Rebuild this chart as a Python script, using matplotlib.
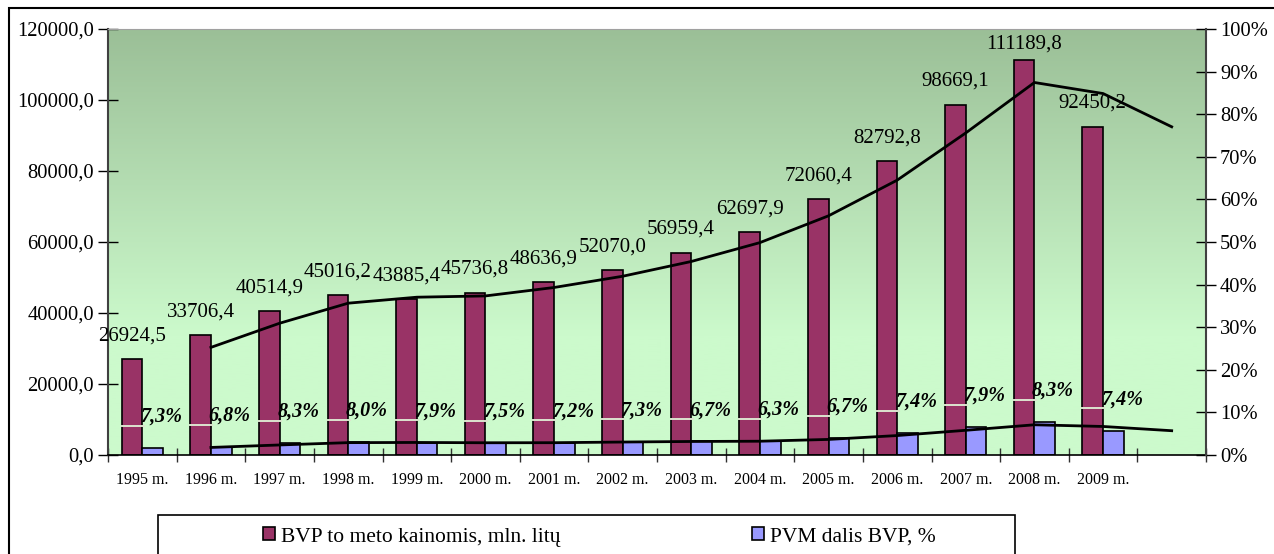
import matplotlib
matplotlib.use("Agg")
import matplotlib.pyplot as plt
import matplotlib.patches as patches
import matplotlib.transforms as mtransforms
from matplotlib.colors import LinearSegmentedColormap
from matplotlib.ticker import FuncFormatter, PercentFormatter
import numpy as np
import pandas as pd

plt.rcParams["font.family"] = ["Liberation Serif", "DejaVu Serif"]

years = ["1995 m.", "1996 m.", "1997 m.", "1998 m.", "1999 m.", "2000 m.", "2001 m.",
         "2002 m.", "2003 m.", "2004 m.", "2005 m.", "2006 m.", "2007 m.", "2008 m.", "2009 m."]
bvp = [26924.5, 33706.4, 40514.9, 45016.2, 43885.4, 45736.8, 48636.9, 52070.0,
       56959.4, 62697.9, 72060.4, 82792.8, 98669.1, 111189.8, 92450.2]
pvm_pct = [7.3, 6.8, 8.3, 8.0, 7.9, 7.5, 7.2, 7.3, 6.7, 6.3, 6.7, 7.4, 7.9, 8.3, 7.4]
pvm_amount = [1965, 2292, 3363, 3601, 3467, 3430, 3502, 3801, 3816, 3950,
              4828, 6127, 7795, 9229, 6841]

MAROON = "#993366"
BLUE = "#9999ff"

n = len(years)
ncat = n + 1  # the chart keeps one empty category at the end
x = np.arange(n)

fig = plt.figure(figsize=(12.74, 5.54), dpi=100)
ax = fig.add_axes([108 / 1274, 1 - 455 / 554, (1206 - 108) / 1274, (455 - 29) / 554])

# plot area gradient
cmap = LinearSegmentedColormap.from_list(
    "bg", [(0.0, "#9bbf97"), (0.72, "#ccfacc"), (1.0, "#ccfacc")])
grad = np.linspace(0, 1, 256).reshape(-1, 1)
ax.imshow(grad, cmap=cmap, extent=[0, 1, 0, 1], transform=ax.transAxes,
          aspect="auto", origin="upper", zorder=0)

bw = 0.3
ax.bar(x - bw / 2, bvp, bw, color=MAROON, edgecolor="black", linewidth=1.2, zorder=2)
ax.bar(x + bw / 2, pvm_amount, bw, color=BLUE, edgecolor="black", linewidth=1.2, zorder=2)

# two-period moving average trend lines
ma_bvp = pd.Series(bvp + [np.nan]).rolling(2, min_periods=1).mean()
ma_pvm = pd.Series(pvm_amount + [np.nan]).rolling(2, min_periods=1).mean()
xl = np.arange(1, ncat)
ax.plot(xl, ma_bvp[1:], color="black", lw=2.0, zorder=3)
ax.plot(xl, ma_pvm[1:], color="black", lw=2.0, zorder=3)

ax.set_xlim(-0.5, ncat - 0.5)
ax.set_ylim(0, 120000)

# value labels
for i, v in enumerate(bvp):
    dy = 5 if v > 105000 else 10
    ax.annotate(f"{v:.1f}".replace(".", ","), (i - bw / 2, v), xytext=(0, dy),
                textcoords="offset points", ha="center", va="bottom",
                fontsize=15, zorder=5)

for i, (a, p) in enumerate(zip(pvm_amount, pvm_pct)):
    ax.annotate(f"{p:.1f}%".replace(".", ","), (i + bw / 2, a), xytext=(6, 22.5),
                textcoords="offset points", ha="center", va="center",
                fontsize=14.5, fontweight="bold", fontstyle="italic", zorder=5)
    shift = mtransforms.ScaledTranslation(0, 16 / 72, fig.dpi_scale_trans)
    ax.plot([i - bw, i - 0.02, i + 0.02], [a, a, a], color="#dce4cf", lw=1.4,
            transform=ax.transData + shift, zorder=4)

# axes styling
ax.set_xticks(np.arange(-0.5, ncat))
ax.set_xticklabels([])
ax.set_xticks(x, minor=True)
ax.set_xticklabels(years, minor=True)
ax.tick_params(axis="x", which="major", direction="inout", length=10, width=1, color="#303030")
ax.tick_params(axis="x", which="minor", length=0, labelsize=11.5, pad=12)

ax.set_yticks(np.arange(0, 120001, 20000))
ax.yaxis.set_major_formatter(FuncFormatter(lambda v, pos: f"{v:.1f}".replace(".", ",")))
ax.tick_params(axis="y", direction="inout", length=14, width=1, labelsize=14.8, pad=3)

ax.spines["left"].set_color("#404040")
ax.spines["left"].set_linewidth(1.5)
ax.spines["bottom"].set_color("black")
ax.spines["bottom"].set_linewidth(1.2)
ax.spines["top"].set_color("#a0a0a0")
ax.spines["right"].set_visible(False)

ax2 = ax.twinx()
ax2.set_ylim(0, 1)
ax2.set_yticks(np.arange(0, 1.01, 0.1))
ax2.yaxis.set_major_formatter(PercentFormatter(1.0, decimals=0))
ax2.tick_params(axis="y", direction="inout", length=14, width=1, labelsize=14.8, pad=3)
ax2.spines["right"].set_color("#404040")
ax2.spines["right"].set_linewidth(1.5)
for s in ["left", "top", "bottom"]:
    ax2.spines[s].set_visible(False)

# chart border and legend box
fig.patches.append(patches.Rectangle((9 / 1274, -0.1), 1.2, 1 - 8 / 554 + 0.1,
                                     transform=fig.transFigure, fill=False,
                                     lw=1.5, ec="black"))
fig.patches.append(patches.Rectangle((158 / 1274, -0.1), (1015 - 158) / 1274, 0.1 + 1 - 515 / 554,
                                     transform=fig.transFigure, fill=False,
                                     lw=1.2, ec="black"))

for label, color, xpos in [("BVP to meto kainomis, mln. litų", MAROON, 263),
                           ("PVM dalis BVP, %", BLUE, 752)]:
    fig.legend(handles=[patches.Patch(facecolor=color, edgecolor="black", lw=1.2)],
               labels=[label], loc="center left",
               bbox_to_anchor=(xpos / 1274, 1 - 537 / 554), frameon=False,
               fontsize=15.5, handlelength=0.55, handleheight=0.55,
               handletextpad=0.3, borderpad=0, borderaxespad=0)

fig.savefig("out.png", dpi=100)
